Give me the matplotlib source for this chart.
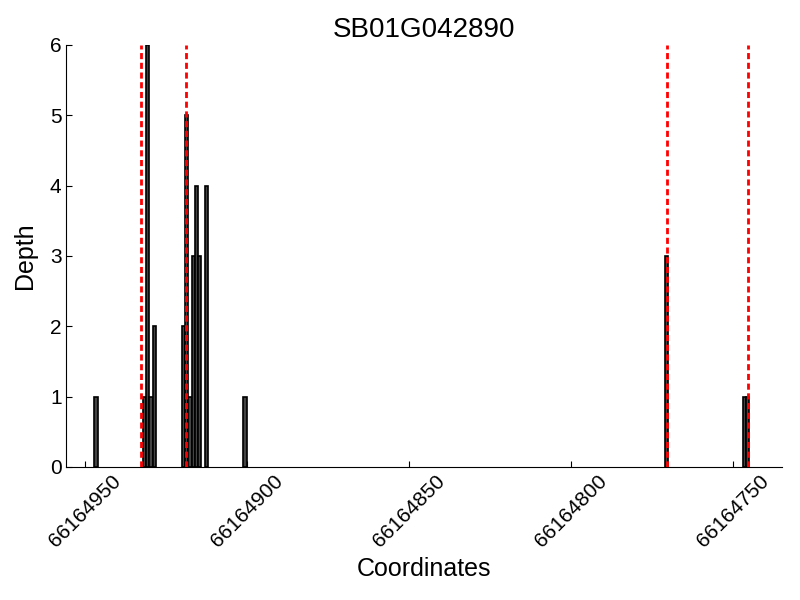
import matplotlib
matplotlib.use('Agg')
import matplotlib.pyplot as plt

plt.rcParams['font.family'] = ['Liberation Sans', 'DejaVu Sans']

title = 'SB01G042890'
positions = [66164946, 66164931, 66164930, 66164929, 66164928,
             66164919, 66164918, 66164917, 66164916, 66164915, 66164914, 66164912,
             66164900, 66164770, 66164746, 66164745]
depths = [1, 1, 6, 1, 2,
          2, 5, 1, 3, 4, 3, 4,
          1, 3, 1, 1]
boundaries = [66164932.6, 66164918.7, 66164770.4, 66164745.4]
xticks = [66164950, 66164900, 66164850, 66164800, 66164750]

fig = plt.figure(figsize=(8, 6), dpi=100)
ax = fig.add_axes([0.083, 0.222, 0.895, 0.703])

ax.bar(positions, depths, width=1, align='edge', color='#444444',
       edgecolor='black', linewidth=1.2, zorder=2)
for b in boundaries:
    ax.axvline(b, color='red', linestyle=(0, (2.2, 1.3)), linewidth=2, zorder=3)

ax.set_xlim(66164955.6, 66164734.8)
ax.set_ylim(0, 6)
ax.set_xticks(xticks)
ax.set_xticklabels([str(t) for t in xticks], rotation=45, fontsize=15)
ax.tick_params(axis='y', labelsize=15)
ax.tick_params(direction='in', length=4, top=False, right=False)
ax.spines['top'].set_visible(False)
ax.spines['right'].set_visible(False)

ax.set_title(title, fontsize=20)
ax.set_xlabel('Coordinates', fontsize=18)
ax.set_ylabel('Depth', fontsize=18, labelpad=9)

fig.savefig('out.png')
